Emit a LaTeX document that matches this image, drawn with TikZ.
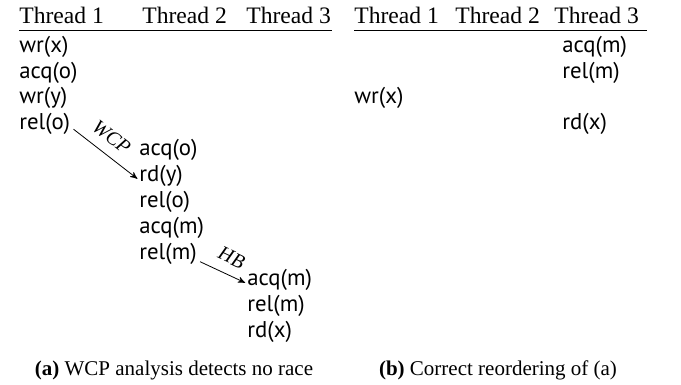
\documentclass[tikz,border=0pt]{standalone}
\usepackage{fontspec}
\setmainfont{Liberation Serif}
\setsansfont{PT Sans}
\usetikzlibrary{arrows,positioning}
\tikzset{head/.style={anchor=west, inner sep=0pt, % column titles
           font=\fontsize{11.8}{13}\selectfont},
         ev/.style={anchor=west, inner sep=0pt,   % one event of a trace
           font=\sffamily\fontsize{11.4}{13}\selectfont},
         order/.style={draw, ->, >=stealth', thin, shorten >=1pt}, % ordering edge
         lbl/.style={sloped, above=5pt, inner sep=0pt,
           font=\itshape\fontsize{10}{12}\selectfont},
         capt/.style={font=\fontsize{10.5}{12}\selectfont}}

\begin{document}
\begin{tikzpicture}[x=0.5pt, y=-0.5pt]
\useasboundingbox (0,0) rectangle (681,385);

% (a) trace seen by WCP
\node[head] (ah1) at (19,15)  {Thread 1};
\node[head] (ah2) at (142,15) {Thread 2};
\node[head] (ah3) at (246,15) {Thread 3};
\draw[line width=0.5pt] (19,31) -- (332,31);

\node[ev] (a1) at (19,46.5)   {wr(x)};
\node[ev] (a2) at (19,72.4)   {acq(o)};
\node[ev] (a3) at (19,98.3)   {wr(y)};
\node[ev] (a4) at (19,124.2)  {rel(o)};
\node[ev] (a5) at (139,150.1) {acq(o)};
\node[ev] (a6) at (139,176)   {rd(y)};
\node[ev] (a7) at (139,201.9) {rel(o)};
\node[ev] (a8) at (139,227.8) {acq(m)};
\node[ev] (a9) at (139,253.7) {rel(m)};
\node[ev] (a10) at (247,279.6) {acq(m)};
\node[ev] (a11) at (247,305.5) {rel(m)};
\node[ev] (a12) at (247,331.4) {rd(x)};

\draw[order] ([xshift=1.5pt,yshift=-2.5pt]a4.east) -- node[lbl, pos=0.42] {WCP}
  ([yshift=-2pt]a6.west);
\draw[order] ([xshift=1.5pt,yshift=-4pt]a9.east) -- node[lbl, pos=0.52] {HB}
  ([yshift=-2pt]a10.west);

\node[capt] (capa) at (174,370) {\textbf{(a)} WCP analysis detects no race};

% (b) reordered trace
\node[head] (bh1) at (354,15) {Thread 1};
\node[head] (bh2) at (455,15) {Thread 2};
\node[head] (bh3) at (554,15) {Thread 3};
\draw[line width=0.5pt] (354,31) -- (647,31);

\node[ev] (b1) at (562,46.5)  {acq(m)};
\node[ev] (b2) at (562,72.4)  {rel(m)};
\node[ev] (b3) at (354,98.3)  {wr(x)};
\node[ev] (b4) at (562,124.2) {rd(x)};

\node[capt] (capb) at (498,370) {\textbf{(b)} Correct reordering of (a)};
\end{tikzpicture}
\end{document}
